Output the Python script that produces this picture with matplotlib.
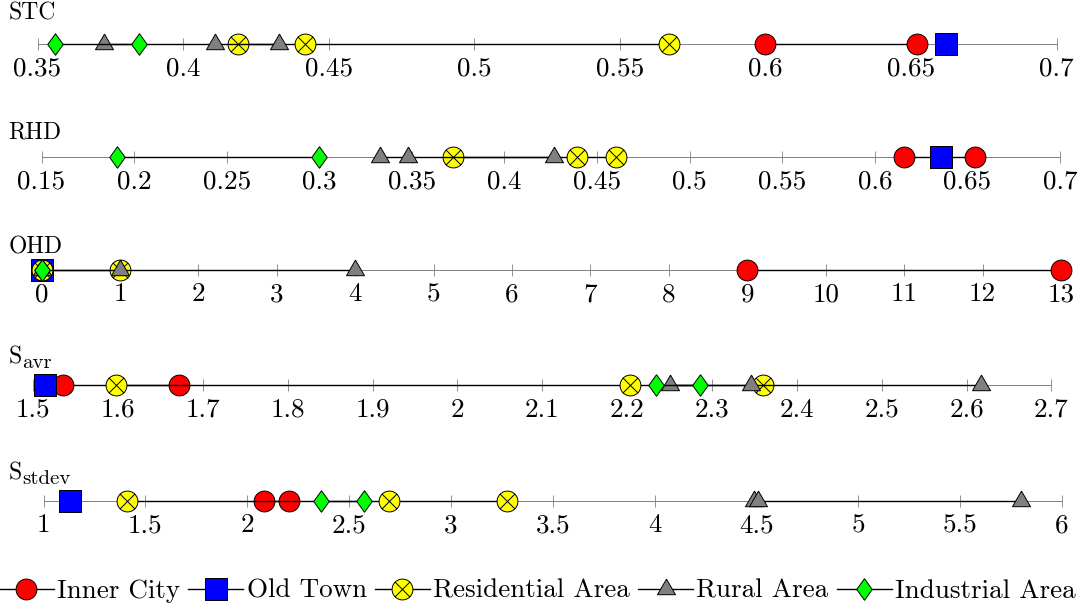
import matplotlib
matplotlib.use('Agg')
import matplotlib.pyplot as plt
from matplotlib.path import Path

plt.rcParams['font.family'] = 'cmr10'
plt.rcParams['mathtext.fontset'] = 'cm'
plt.rcParams['axes.formatter.use_mathtext'] = True

W, H = 1079, 605

categories = ['Inner City', 'Old Town', 'Residential Area', 'Rural Area', 'Industrial Area']
metric_names = ['STC', 'RHD', 'OHD', 'S', 'S']
metric_subscripts = ['', '', '', 'avr', 'stdev']

# values per metric row: STC, RHD, OHD, S_avr, S_stdev
inner_city = [[0.600, 0.652], [0.616, 0.654], [9, 13], [1.535, 1.672], [2.083, 2.207]]
old_town = [[0.662], [0.636], [0], [1.514], [1.130]]
residential = [[0.419, 0.442, 0.567], [0.372, 0.439, 0.460], [0, 0, 1],
               [1.597, 2.203, 2.360], [1.41, 2.696, 3.276]]
rural = [[0.373, 0.411, 0.433], [0.333, 0.348, 0.427], [0, 1, 4],
         [2.250, 2.346, 2.617], [4.49, 4.51, 5.798]]
industrial = [[0.356, 0.385], [0.191, 0.300], [0, 0], [2.234, 2.286], [2.364, 2.573]]

tick_values = [
    [0.35, 0.40, 0.45, 0.50, 0.55, 0.60, 0.65, 0.70],
    [0.15, 0.20, 0.25, 0.30, 0.35, 0.40, 0.45, 0.50, 0.55, 0.60, 0.65, 0.70],
    [0, 1, 2, 3, 4, 5, 6, 7, 8, 9, 10, 11, 12, 13],
    [1.5, 1.6, 1.7, 1.8, 1.9, 2.0, 2.1, 2.2, 2.3, 2.4, 2.5, 2.6, 2.7],
    [1.0, 1.5, 2.0, 2.5, 3.0, 3.5, 4.0, 4.5, 5.0, 5.5, 6.0],
]

# marker shapes
square = [(-1, -1), (1, -1), (1, 1), (-1, 1), (-1, -1)]
triangle = [(0, 1), (-0.866, -0.5), (0.866, -0.5), (0, 1)]
diamond = [(0, 1), (0.72, 0), (0, -1), (-0.72, 0), (0, 1)]
s = 0.7071
otimes = Path.make_compound_path(
    Path.unit_circle(),
    Path([(-s, -s), (s, s)], [Path.MOVETO, Path.LINETO]),
    Path([(-s, s), (s, -s)], [Path.MOVETO, Path.LINETO]),
)

series = [
    (inner_city, 'o', '#ff0000', 15.0),
    (old_town, square, '#0000ff', 16.0),
    (residential, otimes, '#ffff00', 15.0),
    (rural, triangle, '#808080', 15.0),
    (industrial, diamond, '#00ff00', 15.5),
]

# layout in pixels: axis line y, x-range ends, title baseline
line_y = [43.8, 157.3, 270.2, 385.4, 500.8]
x_left = [37.5, 41.5, 41.5, 33.2, 43.5]
x_right = [1056.5, 1060.0, 1061.0, 1051.5, 1062.0]
title_base = [19.5, 139.0, 253.0, 363.5, 479.0]

fig = plt.figure(figsize=(W / 100, H / 100), dpi=100)
renderer = fig.canvas.get_renderer()
half = 15
handles = []
for i in range(5):
    ax = fig.add_axes([x_left[i] / W, 1 - (line_y[i] + half) / H,
                       (x_right[i] - x_left[i]) / W, 2 * half / H])
    ax.set_xlim(tick_values[i][0], tick_values[i][-1])
    ax.set_ylim(-1, 1)
    ax.patch.set_visible(False)
    for side in ('left', 'right', 'top'):
        ax.spines[side].set_visible(False)
    ax.spines['bottom'].set_position(('data', 0))
    ax.spines['bottom'].set_color('#808080')
    ax.spines['bottom'].set_linewidth(0.7)
    ax.set_yticks([])
    ax.set_xticks(tick_values[i], ['%g' % v for v in tick_values[i]])
    ax.tick_params(axis='x', direction='inout', length=8, width=0.6,
                   color='#808080', pad=5, labelsize=19.5)
    for data, mk, col, ms in series:
        vals = data[i]
        ln, = ax.plot(vals, [0] * len(vals), color='black', lw=1.0,
                      marker=mk, markersize=ms, markerfacecolor=col,
                      markeredgecolor='black', markeredgewidth=0.7,
                      clip_on=False, zorder=3)
        if i == 0:
            handles.append(ln)
    t = fig.text(8.5 / W, 1 - title_base[i] / H, metric_names[i],
                 fontsize=17, ha='left', va='baseline')
    if metric_subscripts[i]:
        bb = t.get_window_extent(renderer=renderer)
        fig.text((bb.x1 + 0.5) / W, 1 - (title_base[i] + 4.5) / H,
                 metric_subscripts[i], fontsize=15, ha='left', va='baseline')

fig.legend(handles, categories, loc='center left',
           bbox_to_anchor=(-1 / W, 1 - 591 / H),
           ncol=5, frameon=False, handlelength=2.03, handletextpad=0.12,
           columnspacing=0.3, fontsize=19.5, numpoints=1, borderpad=0,
           borderaxespad=0)

fig.savefig('out.png', dpi=100)
